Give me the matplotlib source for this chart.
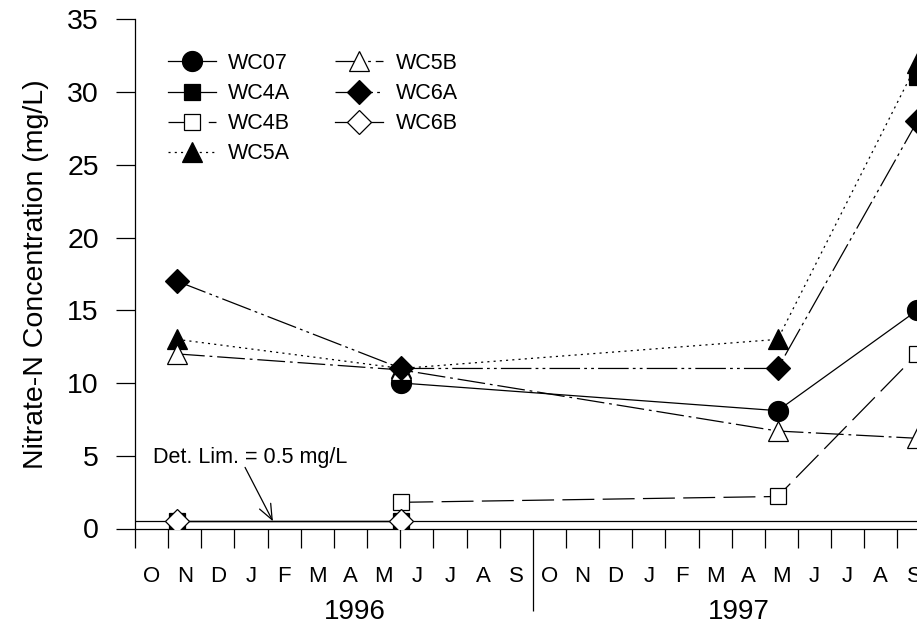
import numpy as np
import pandas as pd
import matplotlib
matplotlib.use("Agg")
import matplotlib.pyplot as plt
import matplotlib.transforms as mtransforms

plt.rcParams['font.family'] = ['Liberation Sans', 'DejaVu Sans']
plt.rcParams['lines.scale_dashes'] = False

# ---------------- data ----------------
sample_dates = ['1995-11-09', '1996-06-02', '1997-05-13', '1997-09-19']
wc07 = [np.nan, 10.0, 8.1, 15.0]
wc4a = [0.5, 0.5, np.nan, 31.0]
wc4b = [np.nan, 1.8, 2.2, 12.0]
wc5a = [13.0, 11.0, 13.0, 32.0]
wc5b = [12.0, 10.9, 6.7, 6.2]
wc6a = [17.0, 11.0, 11.0, 28.0]
wc6b = [0.5, 0.5, np.nan, np.nan]
series_names = ['WC07', 'WC4A', 'WC4B', 'WC5A', 'WC5B', 'WC6A', 'WC6B']
month_labels = ['O', 'N', 'D', 'J', 'F', 'M', 'A', 'M', 'J', 'J', 'A', 'S'] * 2
year_labels = ['1996', '1997']
year_label_pos = [6.64, 18.22]
det_limit = 0.5
y_ticks = [0, 5, 10, 15, 20, 25, 30, 35]

# convert dates to fractional months since 1 Oct 1995
d = pd.to_datetime(sample_dates)
x = np.array([(t.year - 1995) * 12 + (t.month - 10) + (t.day - 1) / t.days_in_month for t in d])

# ---------------- figure ----------------
W, H = 917, 626
fig = plt.figure(figsize=(W / 100, H / 100), dpi=100)
ax_left, ax_right, ax_top, ax_bot = 135, 917, 19.3, 528.5
ax = fig.add_axes([ax_left / W, 1 - ax_bot / H, (ax_right - ax_left) / W, (ax_bot - ax_top) / H])

lw = 0.9
mew = 0.9
styles = {
    'WC07': dict(marker='o', ms=14.4, mfc='black', ls='-'),
    'WC4A': dict(marker='s', ms=12.0, mfc='black', ls='-'),
    'WC4B': dict(marker='s', ms=12.0, mfc='white', ls=(0, (23, 6))),
    'WC5A': dict(marker='^', ms=14.0, mfc='black', ls=(0, (1.5, 3))),
    'WC5B': dict(marker='^', ms=14.0, mfc='white', ls=(0, (20, 3.5, 2, 3.5))),
    'WC6A': dict(marker='D', ms=12.4, mfc='black', ls=(0, (22, 3, 2, 3, 2, 3))),
    'WC6B': dict(marker='D', ms=12.4, mfc='white', ls='-'),
}
values = {'WC07': wc07, 'WC4A': wc4a, 'WC4B': wc4b, 'WC5A': wc5a,
          'WC5B': wc5b, 'WC6A': wc6a, 'WC6B': wc6b}

ax.axhline(det_limit, color='black', lw=lw, zorder=1)

handles = []
for name in series_names:
    st = styles[name]
    h, = ax.plot(x, values[name], color='black', lw=lw, linestyle=st['ls'],
                 marker=st['marker'], ms=st['ms'], mfc=st['mfc'], mec='black',
                 mew=mew, label=name, zorder=3)
    handles.append(h)

for s in ['top', 'right']:
    ax.spines[s].set_visible(False)
for s in ['left', 'bottom']:
    ax.spines[s].set_linewidth(lw)

# x ticks
ax.set_xticks(np.arange(0, 25))
ax.set_xticklabels([])
ax.tick_params(axis='x', which='major', direction='out', length=14, width=lw)
ax.set_xticks(np.arange(0, 24) + 0.5, minor=True)
ax.set_xticklabels(month_labels, minor=True, fontsize=16)
ax.tick_params(axis='x', which='minor', length=0, pad=27)
ax.xaxis.get_major_ticks()[12].tick1line.set_markersize(58.7)

# y ticks
ax.set_yticks(y_ticks)
ax.set_yticklabels([str(v) for v in y_ticks], fontsize=20.5)
ax.tick_params(axis='y', direction='out', length=14, width=lw, pad=12)

# limits after ticks (set_ticks can expand the view)
ax.set_xlim(0, (ax_right - ax_left) / 33.15)
ax.set_ylim(0, 35)

ax.set_ylabel('Nitrate-N Concentration (mg/L)', fontsize=20.5)
ax.yaxis.set_label_coords(-0.11, 0.5)

trans = mtransforms.blended_transform_factory(ax.transData, ax.transAxes)
for lab, pos in zip(year_labels, year_label_pos):
    ax.text(pos, -0.164, lab, transform=trans, ha='center', va='center', fontsize=20)

# detection limit annotation
ax.text(0.54, 4.9, 'Det. Lim. = 0.5 mg/L', ha='left', va='center', fontsize=15.5)
ax.annotate('', xy=(4.16, det_limit), xytext=(3.32, 4.2),
            arrowprops=dict(arrowstyle='->, head_length=1.1, head_width=0.45',
                            color='black', lw=lw, shrinkA=0, shrinkB=0,
                            mutation_scale=10))

leg = ax.legend(handles=handles, ncol=2, loc='upper left', frameon=False,
                bbox_to_anchor=(168 / W, 1 - 53 / H), bbox_transform=fig.transFigure,
                fontsize=15.5, handlelength=2.23, handletextpad=0.56,
                columnspacing=2.1, labelspacing=0.42, borderpad=0, borderaxespad=0,
                numpoints=1)

fig.savefig('out.png', dpi=100)
